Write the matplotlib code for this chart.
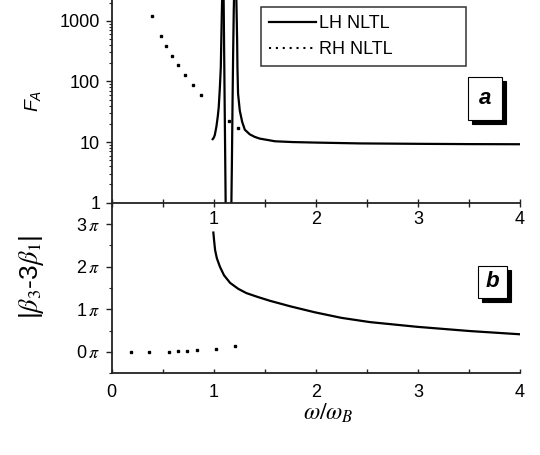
import numpy as np
import matplotlib
matplotlib.use("Agg")
import matplotlib.pyplot as plt
from matplotlib.lines import Line2D
from matplotlib.patches import Rectangle
from matplotlib.ticker import FixedLocator, FixedFormatter, MultipleLocator, LogLocator, NullFormatter

plt.rcParams["font.family"] = ["Liberation Sans", "DejaVu Sans"]
plt.rcParams["mathtext.fontset"] = "stix"
plt.rcParams["mathtext.rm"] = "Liberation Sans"
plt.rcParams["mathtext.it"] = "Liberation Sans:italic"
plt.rcParams["mathtext.bf"] = "Liberation Sans:bold"

# ---------------------------------------------------------------
# data (x = omega / omega_B)
# ---------------------------------------------------------------
# panel a : F_A, LH NLTL (four branches around the two resonances)
lh1_w = [0.983, 1.000, 1.010, 1.026, 1.040, 1.049, 1.060, 1.069, 1.075, 1.081, 1.084]
lh1_f = [10.8, 11.8, 13.0, 18.0, 27.0, 38.0, 80.0, 171.0, 590.0, 1900.0, 3000.0]
lh2_w = [1.096, 1.100, 1.106, 1.112, 1.117]
lh2_f = [3000.0, 630.0, 59.0, 5.6, 0.8]
lh3_w = [1.172, 1.178, 1.184, 1.190, 1.196, 1.200]
lh3_f = [0.8, 5.0, 45.0, 300.0, 1500.0, 3000.0]
lh4_w = [1.219, 1.222, 1.229, 1.232, 1.238, 1.255, 1.278, 1.304, 1.353, 1.40,
         1.45, 1.60, 1.77, 2.00, 2.43, 3.00, 3.50, 4.03]
lh4_f = [3000.0, 2000.0, 470.0, 171.0, 63.0, 33.0, 21.6, 16.0, 13.4, 12.2,
         11.4, 10.3, 10.0, 9.8, 9.5, 9.35, 9.25, 9.2]

# panel a : F_A, RH NLTL
rh_top_w = [0.399, 0.487, 0.536, 0.591, 0.654, 0.719, 0.794, 0.876, 1.147, 1.238]
rh_top_f = [1210, 568, 389, 267, 183, 127, 88, 60, 22, 16.8]

# panel b : |beta3 - 3 beta1| in units of pi
lh_bot_w = [0.996, 1.003, 1.013, 1.03, 1.06, 1.10, 1.16, 1.24, 1.32, 1.43, 1.55,
            1.75, 1.99, 2.25, 2.53, 2.99, 3.51, 4.03]
lh_bot_phi = [2.80, 2.62, 2.39, 2.20, 2.00, 1.80, 1.62, 1.48, 1.38, 1.29, 1.20,
              1.07, 0.93, 0.80, 0.70, 0.59, 0.49, 0.41]
rh_bot_w = [0.19, 0.37, 0.56, 0.65, 0.74, 0.84, 1.02, 1.21]
rh_bot_phi = [0.0, 0.0, 0.0, 0.016, 0.023, 0.04, 0.063, 0.15]

# ticks
x_ticks = [0, 1, 2, 3, 4]
x_top_labels = ["", "1", "2", "3", "4"]
x_bot_labels = ["0", "1", "2", "3", "4"]
fa_ticks = [1, 10, 100, 1000]
fa_labels = ["1", "10", "100", "1000"]
phi_ticks = [0, 1, 2, 3]
phi_labels = [f"{k}$\\,\\pi$" for k in phi_ticks]

# ---------------------------------------------------------------
W, H = 540.0, 455.0
fig = plt.figure(figsize=(5.4, 4.55), dpi=100)
ax1 = fig.add_axes([0.2068, 0.5545, 0.7562, 0.4455])
ax2 = fig.add_axes([0.2068, 0.1796, 0.7562, 0.3749])

spine_c = "#222222"
for ax in (ax1, ax2):
    ax.patch.set_alpha(0)
    ax.spines["right"].set_visible(False)
    ax.spines["top"].set_visible(False)
    for s in ("left", "bottom"):
        ax.spines[s].set_linewidth(1.3)
        ax.spines[s].set_color(spine_c)

# panel a
for w, f in ((lh1_w, lh1_f), (lh2_w, lh2_f), (lh3_w, lh3_f), (lh4_w, lh4_f)):
    ax1.plot(w, f, color="black", lw=1.6, solid_capstyle="butt")
ax1.plot(rh_top_w, rh_top_f, ls="none", marker="s", ms=1.8, color="black")

ax1.set_xlim(0, 4)
ax1.set_yscale("log")
ax1.set_ylim(1, 2200)
ax1.xaxis.set_major_locator(FixedLocator(x_ticks))
ax1.xaxis.set_major_formatter(FixedFormatter(x_top_labels))
ax1.xaxis.set_minor_locator(MultipleLocator(0.5))
ax1.yaxis.set_major_locator(FixedLocator(fa_ticks))
ax1.yaxis.set_major_formatter(FixedFormatter(fa_labels))
ax1.yaxis.set_minor_locator(LogLocator(base=10, subs=np.arange(2, 10)))
ax1.yaxis.set_minor_formatter(NullFormatter())
ax1.tick_params(axis="x", which="both", direction="inout", length=5.8, width=1,
                color=spine_c, labelsize=13, pad=3)
ax1.tick_params(axis="y", which="major", direction="out", length=4.3, width=1,
                color=spine_c, labelsize=13, pad=4)
ax1.tick_params(axis="y", which="minor", direction="out", length=2.2, width=0.8,
                color=spine_c)

handles = [Line2D([], [], color="black", lw=1.6, label="LH NLTL"),
           Line2D([], [], color="black", lw=1.5, ls=(0, (1, 2.3)), label="RH NLTL")]
leg = ax1.legend(handles=handles, loc="upper left",
                 bbox_to_anchor=(0.366, 0.689, 0.502, 0.276), mode="expand",
                 borderaxespad=0, fontsize=13, frameon=True, fancybox=False,
                 handlelength=2.6, handletextpad=0.18, borderpad=0.45,
                 labelspacing=0.5)
leg.get_frame().set_edgecolor("black")
leg.get_frame().set_linewidth(1.1)

# panel b
ax2.plot(lh_bot_w, lh_bot_phi, color="black", lw=1.6)
ax2.plot(rh_bot_w, rh_bot_phi, ls="none", marker="s", ms=1.8, color="black")
ax2.set_xlim(0, 4)
ax2.set_ylim(-0.5, 3.5)
ax2.xaxis.set_major_locator(FixedLocator(x_ticks))
ax2.xaxis.set_major_formatter(FixedFormatter(x_bot_labels))
ax2.xaxis.set_minor_locator(MultipleLocator(0.5))
ax2.yaxis.set_major_locator(FixedLocator(phi_ticks))
ax2.yaxis.set_major_formatter(FixedFormatter(phi_labels))
ax2.yaxis.set_minor_locator(MultipleLocator(0.5))
ax2.tick_params(axis="x", which="both", direction="in", length=2.9, width=1,
                color=spine_c, labelsize=13, pad=7.5)
ax2.tick_params(axis="y", which="major", direction="out", length=4.3, width=1,
                color=spine_c, labelsize=13, pad=4)
ax2.tick_params(axis="y", which="minor", direction="out", length=2.2, width=0.8,
                color=spine_c)

# axis titles
fig.text(33 / W, 1 - 101 / H, r"$F_A$", rotation=90, fontsize=14,
         ha="center", va="center", math_fontfamily="custom")
fig.text(32 / W, 1 - 277 / H, r"|$\beta_3$-3$\beta_1$|", rotation=90,
         fontsize=19, ha="center", va="center")
fig.text(328 / W, 1 - 413 / H, r"$\omega/\omega_B$", fontsize=17,
         ha="center", va="center")


# panel tags with drop shadow
def tag_box(left, top, right, bottom, letter):
    for dx, fc in ((4, "black"), (0, "white")):
        fig.add_artist(Rectangle(((left + dx) / W, 1 - (bottom + dx) / H),
                                 (right - left) / W, (bottom - top) / H,
                                 transform=fig.transFigure, facecolor=fc,
                                 edgecolor="black", lw=0.8))
    fig.text((left + right) / 2 / W, 1 - (top + bottom) / 2 / H, letter,
             ha="center", va="center", fontsize=16, fontweight="bold",
             fontstyle="italic")


tag_box(468.3, 76.7, 502.3, 120.0, "a")
tag_box(478.3, 265.7, 507.3, 297.7, "b")

fig.savefig("out.png", dpi=100)
